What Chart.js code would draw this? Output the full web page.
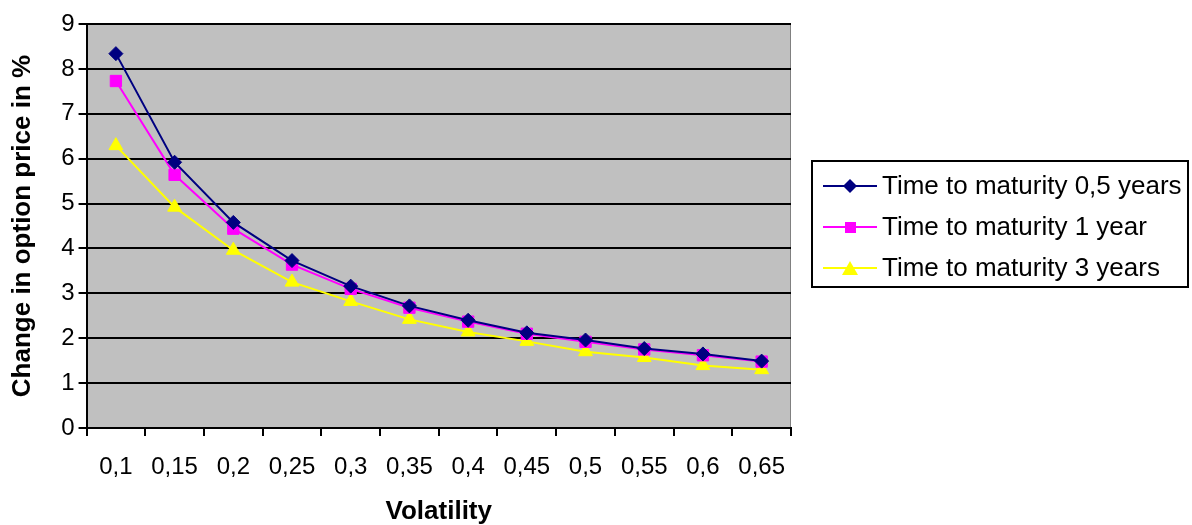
<!DOCTYPE html>
<html>
<head>
<meta charset="utf-8">
<script src="https://cdn.jsdelivr.net/npm/chart.js@4/dist/chart.umd.min.js"></script>
<style>
  body { margin: 0; background: #fff; font-family: "Liberation Sans", Arial, sans-serif; }
  #wrap { position: relative; width: 1192px; height: 525px; }
  #legend { position: absolute; left: 811px; top: 160px; width: 378px; height: 128px;
            border: 2px solid #000; box-sizing: border-box; padding: 3px 0 0 10px; }
  .item { display: flex; align-items: center; height: 41px; font-size: 26px; color: #000; white-space: nowrap; }
  .item svg { margin-right: 5px; }
</style>
</head>
<body>
<div id="wrap">
  <canvas id="chart" width="1192" height="525"></canvas>
  <div id="legend"></div>
</div>
<script>
// categories (volatility) and series values
const volatility = ['0,1', '0,15', '0,2', '0,25', '0,3', '0,35', '0,4', '0,45', '0,5', '0,55', '0,6', '0,65'];
const halfYear  = [8.34, 5.92, 4.58, 3.73, 3.16, 2.72, 2.40, 2.12, 1.96, 1.77, 1.65, 1.49];
const oneYear   = [7.73, 5.64, 4.44, 3.64, 3.10, 2.68, 2.37, 2.10, 1.92, 1.75, 1.62, 1.48];
const threeYear = [6.29, 4.92, 3.96, 3.25, 2.82, 2.42, 2.14, 1.93, 1.70, 1.57, 1.39, 1.30];
const seriesLabels = ['Time to maturity 0,5 years', 'Time to maturity 1 year', 'Time to maturity 3 years'];

// gray plot background
const plotBackground = {
    id: 'plotBackground',
    beforeDraw(chart) {
        const a = chart.chartArea;
        const ctx = chart.ctx;
        ctx.save();
        ctx.fillStyle = '#C0C0C0';
        ctx.fillRect(a.left, a.top, a.right - a.left, a.bottom - a.top);
        ctx.strokeStyle = '#808080';
        ctx.lineWidth = 1;
        ctx.beginPath();
        ctx.moveTo(a.left, a.top + 0.5);
        ctx.lineTo(a.right - 0.5, a.top + 0.5);
        ctx.lineTo(a.right - 0.5, a.bottom);
        ctx.stroke();
        ctx.restore();
    }
};

const tickFont = { family: 'Liberation Sans', size: 24 };
const titleFont = { family: 'Liberation Sans', size: 26, weight: 'bold' };

const ctx = document.getElementById('chart').getContext('2d');
const chart = new Chart(ctx, {
    type: 'line',
    data: {
        labels: volatility,
        datasets: [{
            label: seriesLabels[0],
            data: halfYear,
            borderColor: '#000080',
            backgroundColor: '#000080',
            borderWidth: 2,
            pointStyle: 'rectRot',
            pointRadius: 7,
            pointBorderWidth: 1
        }, {
            label: seriesLabels[1],
            data: oneYear,
            borderColor: '#FF00FF',
            backgroundColor: '#FF00FF',
            borderWidth: 2,
            pointStyle: 'rect',
            pointRadius: 8,
            pointBorderWidth: 1
        }, {
            label: seriesLabels[2],
            data: threeYear,
            borderColor: '#FFFF00',
            backgroundColor: '#FFFF00',
            borderWidth: 2,
            pointStyle: 'triangle',
            pointRadius: 8,
            pointBorderWidth: 1
        }]
    },
    options: {
        responsive: false,
        animation: false,
        layout: { padding: { top: 24, right: 401, left: 7, bottom: 0 } },
        plugins: {
            legend: { display: false },
            tooltip: { enabled: false }
        },
        scales: {
            x: {
                offset: true,
                afterFit(scale) { scale.height = 97; },
                grid: {
                    offset: true,
                    drawOnChartArea: false,
                    color: '#000',
                    lineWidth: 2,
                    tickLength: 8
                },
                border: { color: '#000', width: 2 },
                ticks: {
                    color: '#000',
                    font: tickFont,
                    padding: 17,
                    maxRotation: 0
                },
                title: {
                    display: true,
                    text: 'Volatility',
                    color: '#000',
                    font: { family: 'Liberation Sans', size: 26, weight: 'bold', lineHeight: 1 },
                    padding: { top: 0, bottom: 0 }
                }
            },
            y: {
                min: 0,
                max: 9,
                grid: {
                    color: '#000',
                    lineWidth: 2,
                    tickLength: 8
                },
                border: { color: '#000', width: 2 },
                ticks: {
                    stepSize: 1,
                    color: '#000',
                    font: tickFont,
                    padding: 4
                },
                title: {
                    display: true,
                    text: 'Change in option price in %',
                    color: '#000',
                    font: titleFont,
                    padding: { top: 0, bottom: 19 }
                }
            }
        }
    },
    plugins: [plotBackground]
});

// html legend with line + marker icons
const legendEl = document.getElementById('legend');
const shapes = {
    rectRot: c => `<polygon points="27,3 34,10 27,17 20,10" fill="${c}"/>`,
    rect: c => `<rect x="22" y="5" width="11" height="11" fill="${c}"/>`,
    triangle: c => `<polygon points="27,3 35,17 19,17" fill="${c}"/>`
};
chart.data.datasets.forEach(ds => {
    const item = document.createElement('div');
    item.className = 'item';
    item.innerHTML = `<svg width="54" height="20"><line x1="0" y1="10" x2="54" y2="10" stroke="${ds.borderColor}" stroke-width="2"/>${shapes[ds.pointStyle](ds.backgroundColor)}</svg><span>${ds.label}</span>`;
    legendEl.appendChild(item);
});
</script>
</body>
</html>
